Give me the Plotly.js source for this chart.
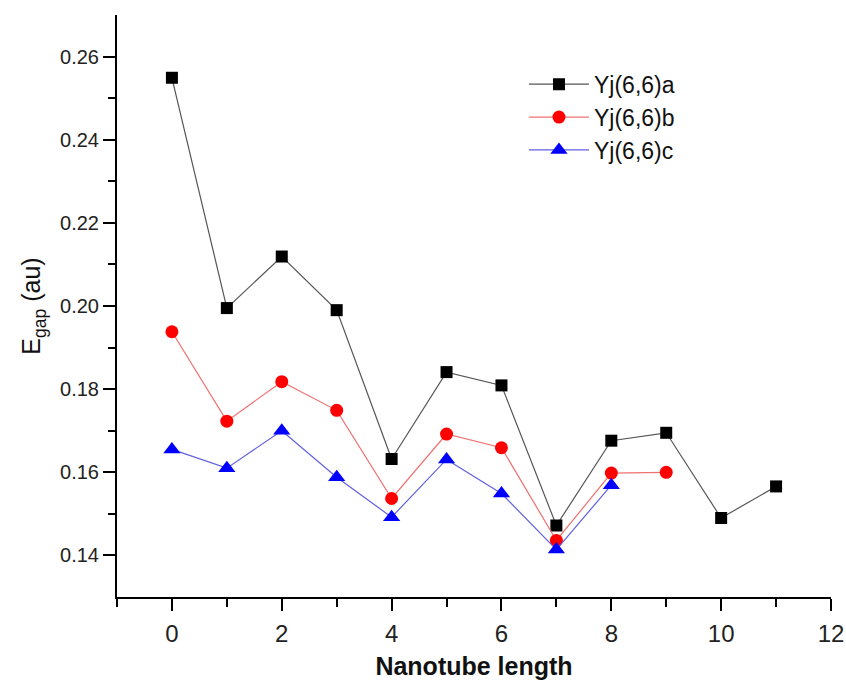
<!DOCTYPE html>
<html>
<head>
<meta charset="utf-8">
<script src="https://cdn.plot.ly/plotly-3.0.1.min.js"></script>
<style>html,body{margin:0;padding:0;background:#fff;}#chart{width:846px;height:681px;}</style>
</head>
<body>
<div id="chart"></div>
<script>
var xA = [0, 1, 2, 3, 4, 5, 6, 7, 8, 9, 10, 11];
var yA = [0.2549, 0.1995, 0.2119, 0.1990, 0.1632, 0.1841, 0.1809, 0.1472, 0.1676, 0.1695, 0.1490, 0.1566];
var xB = [0, 1, 2, 3, 4, 5, 6, 7, 8, 9];
var yB = [0.1938, 0.1723, 0.1818, 0.1749, 0.1537, 0.1692, 0.1659, 0.1436, 0.1598, 0.1600];
var xC = [0, 1, 2, 3, 4, 5, 6, 7, 8];
var yC = [0.1655, 0.1610, 0.1700, 0.1588, 0.1492, 0.1631, 0.1549, 0.1414, 0.1569];
var names = ["Yj(6,6)a", "Yj(6,6)b", "Yj(6,6)c"];
var xTicks = [0, 2, 4, 6, 8, 10, 12];
var xMinor = [-1, 1, 3, 5, 7, 9, 11];
var yTicks = [0.14, 0.16, 0.18, 0.20, 0.22, 0.24, 0.26];
var yTickText = ["0.14", "0.16", "0.18", "0.20", "0.22", "0.24", "0.26"];
var yMinor = [0.15, 0.17, 0.19, 0.21, 0.23, 0.25];

var traces = [
  {x: xA, y: yA, name: names[0], mode: "lines+markers", type: "scatter",
   line: {color: "#555555", width: 1.2},
   marker: {symbol: "square", size: 12, color: "#000000"}},
  {x: xB, y: yB, name: names[1], mode: "lines+markers", type: "scatter",
   line: {color: "#f07070", width: 1.2},
   marker: {symbol: "circle", size: 13, color: "#ff0000"}},
  {x: xC, y: yC, name: names[2], mode: "lines+markers", type: "scatter",
   line: {color: "#6060e0", width: 1.2},
   marker: {symbol: "triangle-up", size: 15, color: "#0000ff"}}
];

var layout = {
  width: 846, height: 681,
  margin: {l: 117, r: 15, t: 15, b: 84},
  paper_bgcolor: "#ffffff", plot_bgcolor: "#ffffff",
  font: {family: "Liberation Sans, Arial, sans-serif", color: "#222222"},
  showlegend: true,
  legend: {x: 0.57, y: 0.918, xanchor: "left", yanchor: "top",
           font: {size: 23, color: "#111111"}, bgcolor: "rgba(0,0,0,0)",
           itemwidth: 60, tracegroupgap: 0},
  xaxis: {
    range: [-1, 12], tickvals: xTicks,
    showgrid: false, zeroline: false,
    showline: true, linecolor: "#000000", linewidth: 2,
    ticks: "outside", ticklen: 12, tickwidth: 2, tickcolor: "#000000",
    minor: {tickvals: xMinor, ticks: "outside", ticklen: 8, tickwidth: 2, tickcolor: "#000000"},
    tickfont: {size: 24, color: "#222222"},
    ticklabelstandoff: 2,
    title: {text: "<b>Nanotube length</b>", font: {size: 25, color: "#111111"}, standoff: 12}
  },
  yaxis: {
    range: [0.13, 0.27], tickvals: yTicks, ticktext: yTickText,
    showgrid: false, zeroline: false,
    showline: true, linecolor: "#000000", linewidth: 2,
    ticks: "outside", ticklen: 12, tickwidth: 2, tickcolor: "#000000",
    minor: {tickvals: yMinor, ticks: "outside", ticklen: 7, tickwidth: 2, tickcolor: "#000000"},
    tickfont: {size: 20, color: "#222222"},
    title: {text: "E<sub>gap</sub> (au)", font: {size: 25, color: "#111111"}, standoff: 12}
  }
};

Plotly.newPlot("chart", traces, layout, {displayModeBar: false, staticPlot: true});
</script>
</body>
</html>
